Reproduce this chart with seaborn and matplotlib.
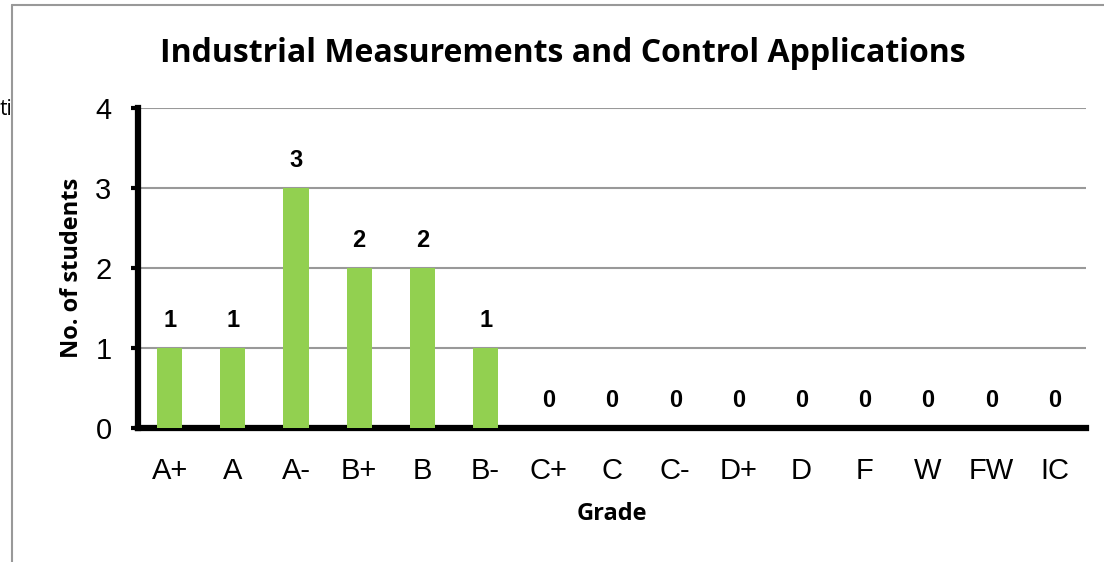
import seaborn as sns
import matplotlib.pyplot as plt
import pandas as pd
from matplotlib.lines import Line2D

# grade distribution data
grades = ["A+", "A", "A-", "B+", "B", "B-", "C+", "C", "C-", "D+", "D", "F", "W", "FW", "IC"]
students = [1, 1, 3, 2, 2, 1, 0, 0, 0, 0, 0, 0, 0, 0, 0]

df = pd.DataFrame({"grade": grades, "students": students})

sns.set_style("white")
plt.rcParams['font.family'] = ['Liberation Sans', 'DejaVu Sans']
plt.rcParams['text.color'] = 'black'
plt.rcParams['axes.labelcolor'] = 'black'
plt.rcParams['xtick.color'] = 'black'
plt.rcParams['ytick.color'] = 'black'

fig = plt.figure(figsize=(11.04, 5.62), dpi=100)
ax = fig.add_axes([0.125, 0.238, 0.8587, 0.570])

sns.barplot(data=df, x="grade", y="students", color="#92D050", width=0.4,
            saturation=1, linewidth=0, ax=ax, zorder=3)

ax.set_ylim(0, 4)
ax.set_xlim(-0.5, len(grades) - 0.5)
ax.set_yticks([0, 1, 2, 3, 4])
ax.yaxis.grid(True, color="#999999", linewidth=1.5, zorder=0)
ax.xaxis.grid(False)

# data labels
for i, v in enumerate(students):
    ax.text(i, v + 0.2, str(v), ha="center", va="bottom",
            fontsize=17, fontweight="bold")

# spines
for s in ["top", "right"]:
    ax.spines[s].set_visible(False)
ax.spines["left"].set_linewidth(4.5)
ax.spines["bottom"].set_linewidth(4.5)
ax.spines["left"].set_color("black")
ax.spines["bottom"].set_color("black")

# tick marks on x axis at category boundaries
ax.set_xticks(range(len(grades)))
ax.set_xticklabels(grades)
ax.tick_params(axis="x", which="major", length=0, labelsize=21, pad=21)
ax.set_xticks([i - 0.5 for i in range(len(grades) + 1)], minor=True)
ax.tick_params(axis="x", which="minor", direction="out", length=7, width=4.5, color="black")
ax.tick_params(axis="y", direction="out", length=5, width=3, color="black",
               labelsize=21, pad=14, left=True)

ax.set_xlabel("Grade", fontsize=17, fontweight="bold", family=["Open Sans", "DejaVu Sans"], labelpad=12)
ax.set_ylabel("No. of students", fontsize=17, fontweight="bold", family=["Open Sans", "DejaVu Sans"], labelpad=8)

fig.text(0.51, 0.905, "Industrial Measurements and Control Applications",
         ha="center", va="center", fontsize=23, fontweight="bold",
         family=["Open Sans", "DejaVu Sans"])

# stray text at left edge and chart border
fig.text(0.0, 0.805, "ti", ha="left", va="center", fontsize=15,
         family=["Open Sans", "DejaVu Sans"])
fig.add_artist(Line2D([0.011, 0.011], [0, 0.991], color="#999999", linewidth=1.5,
                      transform=fig.transFigure))
fig.add_artist(Line2D([0.011, 1.0], [0.991, 0.991], color="#999999", linewidth=1.5,
                      transform=fig.transFigure))

fig.savefig("out.png", dpi=100)
